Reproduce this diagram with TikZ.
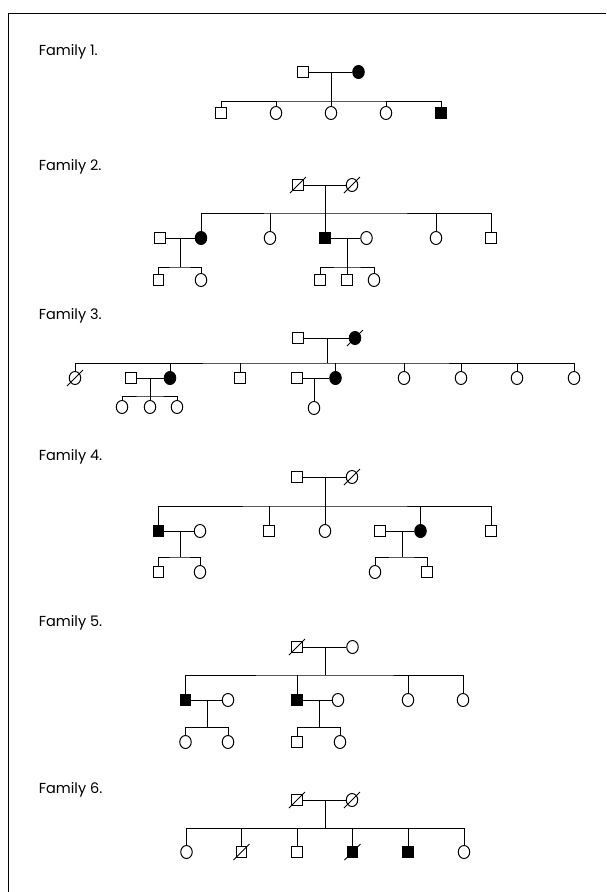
\documentclass[tikz,border=0pt]{standalone}
\usepackage{fontspec}
\setmainfont{Poppins}
\usepackage{tikz}
\usetikzlibrary{shapes.geometric}

\begin{document}
\begin{tikzpicture}[x=1pt, y=-1pt, line width=1pt,
    sq/.style={draw, rectangle, minimum size=10.5pt, inner sep=0pt},
    ci/.style={draw, ellipse, minimum width=11.5pt, minimum height=13pt, inner sep=0pt},
    aff/.style={fill=black},
    dead/.style={append after command={\pgfextra{\draw (\tikzlastnode.center) ++(-8,8) -- ++(16,-16);}}},
    fam/.style={anchor=west, font=\fontsize{14.5}{17}\selectfont}]
    \useasboundingbox (0,0) rectangle (606,892);
    \draw[line width=0.7pt] (606,13) -| (8,892);

    \node[fam] (t1) at (35,52){Family 1.};
    \node[sq] (f1gf) at (303,72){};
    \node[ci, aff] (f1gm) at (358.5,72){};
    \coordinate (f1u) at (331,72);
    \coordinate (f1s) at (331,101);
    \node[sq] (f1a) at (221,113){};
    \node[ci] (f1b) at (276,113){};
    \node[ci] (f1c) at (331,113){};
    \node[ci] (f1d) at (386,113){};
    \node[sq, aff] (f1e) at (441,113){};
    \draw (f1gf)--(f1gm);
    \draw (f1u)--(f1s);
    \draw (f1a) |- (f1s) -| (f1e);
    \draw (f1b |- f1s)--(f1b);
    \draw (f1c |- f1s)--(f1c);
    \draw (f1d |- f1s)--(f1d);

    \node[fam] (t2) at (35,167){Family 2.};
    \node[sq, dead] (f2gf) at (298,185){};
    \node[ci, dead] (f2gm) at (352,185){};
    \coordinate (f2u) at (325,185);
    \coordinate (f2s) at (325,213);
    \node[ci, aff] (f2a) at (201,238){};
    \node[ci] (f2b) at (270,238){};
    \node[sq, aff] (f2c) at (325,238){};
    \node[ci] (f2d) at (436,238){};
    \node[sq] (f2e) at (491,238){};
    \draw (f2gf)--(f2gm);
    \draw (f2u)--(f2s);
    \draw (f2a) |- (f2s) -| (f2e);
    \draw (f2b |- f2s)--(f2b);
    \draw (f2c |- f2s)--(f2c);
    \draw (f2d |- f2s)--(f2d);
    \node[sq] (f2ax) at (160,238){};
    \coordinate (f2au) at (180,238);
    \coordinate (f2as) at (180,267);
    \node[sq] (f2a1) at (158.5,280){};
    \node[ci] (f2a2) at (201,280){};
    \draw (f2ax)--(f2a);
    \draw (f2au)--(f2as);
    \draw (f2a1) |- (f2as) -| (f2a2);
    \node[ci] (f2cx) at (366.5,238){};
    \coordinate (f2cu) at (347,238);
    \coordinate (f2cs) at (347,267);
    \node[sq] (f2c1) at (320,280){};
    \node[sq] (f2c2) at (347,280){};
    \node[ci] (f2c3) at (374,280){};
    \draw (f2c)--(f2cx);
    \draw (f2cu)--(f2c2);
    \draw (f2c1) |- (f2cs) -| (f2c3);

    \node[fam] (t3) at (35,316){Family 3.};
    \node[sq] (f3gf) at (298,338){};
    \node[ci, aff, dead] (f3gm) at (355,338){};
    \coordinate (f3u) at (327,338);
    \coordinate (f3s) at (327,363);
    \node[ci, dead] (f3a) at (75,378){};
    \node[ci, aff] (f3b) at (170,378){};
    \node[sq] (f3c) at (240,378){};
    \node[ci, aff] (f3d) at (335.5,378){};
    \node[ci] (f3e) at (404,378){};
    \node[ci] (f3f) at (461,378){};
    \node[ci] (f3g) at (517,378){};
    \node[ci] (f3h) at (574,378){};
    \draw (f3gf)--(f3gm);
    \draw (f3u)--(f3s);
    \draw (f3a) |- (f3s) -| (f3h);
    \draw (f3b |- f3s)--(f3b);
    \draw (f3c |- f3s)--(f3c);
    \draw (f3d |- f3s)--(f3d);
    \draw (f3e |- f3s)--(f3e);
    \draw (f3f |- f3s)--(f3f);
    \draw (f3g |- f3s)--(f3g);
    \node[sq] (f3bx) at (131,378){};
    \coordinate (f3bu) at (150,378);
    \coordinate (f3bs) at (150,396);
    \node[ci] (f3b1) at (122,407){};
    \node[ci] (f3b2) at (150,407){};
    \node[ci] (f3b3) at (177,407){};
    \draw (f3bx)--(f3b);
    \draw (f3bu)--(f3b2);
    \draw (f3b1) |- (f3bs) -| (f3b3);
    \node[sq] (f3dx) at (297,378){};
    \coordinate (f3du) at (314,378);
    \node[ci] (f3d1) at (314,408){};
    \draw (f3dx)--(f3d);
    \draw (f3du)--(f3d1);

    \node[fam] (t4) at (35,457){Family 4.};
    \node[sq] (f4gf) at (297,477){};
    \node[ci, dead] (f4gm) at (352,477){};
    \coordinate (f4u) at (325,477);
    \coordinate (f4s) at (325,506);
    \node[sq, aff] (f4a) at (158.5,531){};
    \node[sq] (f4b) at (269,531){};
    \node[ci] (f4c) at (325,531){};
    \node[ci, aff] (f4d) at (420.5,531){};
    \node[sq] (f4e) at (491,531){};
    \draw (f4gf)--(f4gm);
    \draw (f4u)--(f4c);
    \draw (f4a) |- (f4s) -| (f4e);
    \draw (f4b |- f4s)--(f4b);
    \draw (f4d |- f4s)--(f4d);
    \node[ci] (f4ax) at (200,531){};
    \coordinate (f4au) at (180,531);
    \coordinate (f4as) at (180,557);
    \node[sq] (f4a1) at (158.5,572){};
    \node[ci] (f4a2) at (200,572){};
    \draw (f4a)--(f4ax);
    \draw (f4au)--(f4as);
    \draw (f4a1) |- (f4as) -| (f4a2);
    \node[sq] (f4dx) at (380,531){};
    \coordinate (f4du) at (402,531);
    \coordinate (f4ds) at (402,557);
    \node[ci] (f4d1) at (375,572){};
    \node[sq] (f4d2) at (427,572){};
    \draw (f4dx)--(f4d);
    \draw (f4du)--(f4ds);
    \draw (f4d1) |- (f4ds) -| (f4d2);

    \node[fam] (t5) at (35,623){Family 5.};
    \node[sq, dead] (f5gf) at (297,647){};
    \node[ci] (f5gm) at (352.5,647){};
    \coordinate (f5u) at (325,647);
    \coordinate (f5s) at (325,675);
    \node[sq, aff] (f5a) at (185.5,700){};
    \node[sq, aff] (f5b) at (297,700){};
    \node[ci] (f5c) at (408,700){};
    \node[ci] (f5d) at (463,700){};
    \draw (f5gf)--(f5gm);
    \draw (f5u)--(f5s);
    \draw (f5a) |- (f5s) -| (f5d);
    \draw (f5b |- f5s)--(f5b);
    \draw (f5c |- f5s)--(f5c);
    \node[ci] (f5ax) at (228,700){};
    \coordinate (f5au) at (207,700);
    \coordinate (f5as) at (207,727);
    \node[ci] (f5a1) at (185.5,742){};
    \node[ci] (f5a2) at (228,742){};
    \draw (f5a)--(f5ax);
    \draw (f5au)--(f5as);
    \draw (f5a1) |- (f5as) -| (f5a2);
    \node[ci] (f5bx) at (338,700){};
    \coordinate (f5bu) at (319,700);
    \coordinate (f5bs) at (319,727);
    \node[sq] (f5b1) at (297,742){};
    \node[ci] (f5b2) at (340,742){};
    \draw (f5b)--(f5bx);
    \draw (f5bu)--(f5bs);
    \draw (f5b1) |- (f5bs) -| (f5b2);

    \node[fam] (t6) at (35,790){Family 6.};
    \node[sq, dead] (f6gf) at (297,800){};
    \node[ci, dead] (f6gm) at (352,800){};
    \coordinate (f6u) at (325,800);
    \coordinate (f6s) at (325,828);
    \node[ci] (f6a) at (186.5,852){};
    \node[sq, dead] (f6b) at (241.5,852){};
    \node[sq] (f6c) at (297,852){};
    \node[sq, aff, dead] (f6d) at (352.5,852){};
    \node[sq, aff] (f6e) at (408,852){};
    \node[ci] (f6f) at (464,852){};
    \draw (f6gf)--(f6gm);
    \draw (f6u)--(f6s);
    \draw (f6a) |- (f6s) -| (f6f);
    \draw (f6b |- f6s)--(f6b);
    \draw (f6c |- f6s)--(f6c);
    \draw (f6d |- f6s)--(f6d);
    \draw (f6e |- f6s)--(f6e);
  \end{tikzpicture}
\end{document}
